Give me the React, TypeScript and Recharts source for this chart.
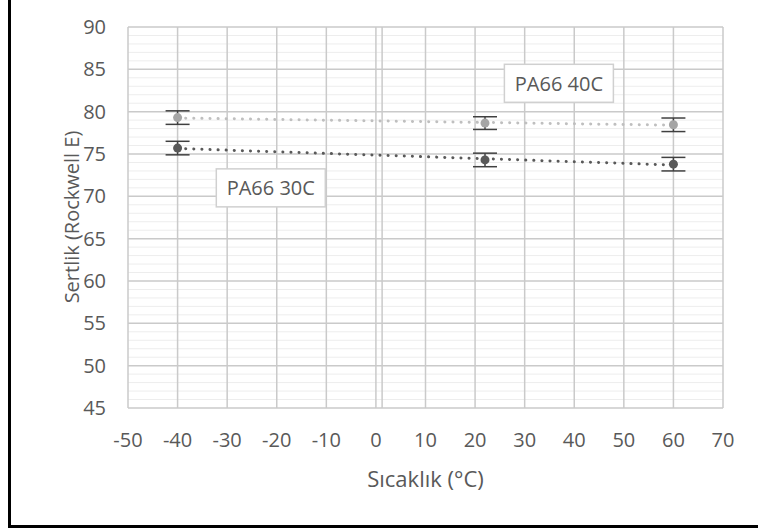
import React from "react";
import {
  ComposedChart,
  Scatter,
  Line,
  XAxis,
  YAxis,
  CartesianGrid,
  ErrorBar,
  ReferenceLine,
  ReferenceDot,
  Label,
} from "recharts";

// temperatures (°C) where hardness was measured
const temps = [-40, 22, 60];
const pa66_40c = [79.3, 78.65, 78.45];
const pa66_40c_err = [0.8, 0.75, 0.8];
const pa66_30c = [75.7, 74.3, 73.8];
const pa66_30c_err = [0.8, 0.8, 0.8];

// linear trend ends
const trendX = [-40, 60];
const trend40c = [79.25, 78.4];
const trend30c = [75.65, 73.7];

const xTicks = [-50, -40, -30, -20, -10, 0, 10, 20, 30, 40, 50, 60, 70];
const yTicks = [45, 50, 55, 60, 65, 70, 75, 80, 85, 90];
const minorY: number[] = [];
for (let v = 46; v < 90; v++) if (v % 5 !== 0) minorY.push(v);

const seriesLabels = [
  { name: "PA66 40C", x: 36.9, y: 83.35 },
  { name: "PA66 30C", x: -21.2, y: 71.0 },
];

const data40 = temps.map((t, i) => ({ x: t, y: pa66_40c[i], err: pa66_40c_err[i] }));
const data30 = temps.map((t, i) => ({ x: t, y: pa66_30c[i], err: pa66_30c_err[i] }));
const trendData40 = trendX.map((t, i) => ({ x: t, y: trend40c[i] }));
const trendData30 = trendX.map((t, i) => ({ x: t, y: trend30c[i] }));

const FONT = "'Open Sans', sans-serif";
const TXT = "#595959";
const GRID = "#CACACA";

const LabelBox = (props: any) => {
  const { cx, cy, name } = props;
  const w = 109;
  const h = 38;
  return (
    <g>
      <rect x={cx - w / 2} y={cy - h / 2} width={w} height={h} fill="#fff" stroke="#D0D0D0" strokeWidth={1.5} />
      <text x={cx} y={cy} textAnchor="middle" dominantBaseline="central" fill={TXT} fontSize={20} fontFamily={FONT}>
        {name}
      </text>
    </g>
  );
};

const XTitle = (props: any) => {
  const vb = props.viewBox;
  return (
    <text x={vb.x + vb.width / 2} y={vb.y + 70} textAnchor="middle" dominantBaseline="central" fill={TXT} fontSize={22} fontFamily={FONT}>
      Sıcaklık (°C)
    </text>
  );
};

export default function App() {
  return (
    <div style={{ position: "absolute", left: 0, top: 0, width: 758, height: 531, background: "#fff", overflow: "hidden" }}>
      <div
        style={{
          position: "absolute",
          left: 8,
          top: -5,
          width: 800,
          height: 530,
          borderLeft: "3px solid #000",
          borderBottom: "3px solid #000",
        }}
      />
      <div style={{ position: "absolute", left: 0, top: 0 }}>
        <ComposedChart width={758} height={531} margin={{ top: 27, right: 35, bottom: 33, left: 68 }}>
          <CartesianGrid vertical={false} stroke={GRID} strokeWidth={1.5} />
          <XAxis
            type="number"
            dataKey="x"
            domain={[-50, 70]}
            ticks={xTicks}
            height={90}
            axisLine={false}
            tickLine={false}
            tickSize={0}
            tickMargin={25}
            tick={{ fill: TXT, fontSize: 20, fontFamily: FONT }}
          >
            <Label content={<XTitle />} />
          </XAxis>
          <YAxis
            type="number"
            dataKey="y"
            domain={[45, 90]}
            ticks={yTicks}
            width={60}
            axisLine={false}
            tickLine={false}
            tickSize={0}
            tickMargin={22}
            tick={{ fill: TXT, fontSize: 20, fontFamily: FONT }}
          />
          {minorY.map((v) => (
            <ReferenceLine key={"m" + v} y={v} stroke="#EDEDED" strokeWidth={1} />
          ))}
          {xTicks.map((v) => (
            <ReferenceLine key={"v" + v} x={v} stroke={GRID} strokeWidth={1.5} />
          ))}
          <ReferenceLine x={1.25} stroke={GRID} strokeWidth={1.5} />
          <Line
            data={trendData40}
            dataKey="y"
            stroke="#BFBFBF"
            strokeWidth={3}
            strokeDasharray="0.1 8"
            strokeLinecap="round"
            dot={false}
            activeDot={false}
            isAnimationActive={false}
          />
          <Line
            data={trendData30}
            dataKey="y"
            stroke="#595959"
            strokeWidth={3}
            strokeDasharray="0.1 8"
            strokeLinecap="round"
            dot={false}
            activeDot={false}
            isAnimationActive={false}
          />
          <Scatter data={data40} fill="#A5A5A5" isAnimationActive={false} shape={(p: any) => <circle cx={p.cx} cy={p.cy} r={4.5} fill="#A5A5A5" />}>
            <ErrorBar dataKey="err" direction="y" width={12} stroke="#404040" strokeWidth={1.5} />
          </Scatter>
          <Scatter data={data30} fill="#595959" isAnimationActive={false} shape={(p: any) => <circle cx={p.cx} cy={p.cy} r={4.5} fill="#595959" />}>
            <ErrorBar dataKey="err" direction="y" width={12} stroke="#404040" strokeWidth={1.5} />
          </Scatter>
          {seriesLabels.map((l) => (
            <ReferenceDot
              key={l.name}
              x={l.x}
              y={l.y}
              r={0}
              shape={(p: any) => <LabelBox cx={p.cx} cy={p.cy} name={l.name} />}
            />
          ))}
        </ComposedChart>
      </div>
      <div
        style={{
          position: "absolute",
          left: 72 - 150,
          top: 217 - 15,
          width: 300,
          height: 30,
          lineHeight: "30px",
          textAlign: "center",
          transform: "rotate(-90deg)",
          color: TXT,
          fontSize: 20,
          fontFamily: FONT,
          whiteSpace: "nowrap",
        }}
      >
        Sertlik (Rockwell E)
      </div>
    </div>
  );
}
